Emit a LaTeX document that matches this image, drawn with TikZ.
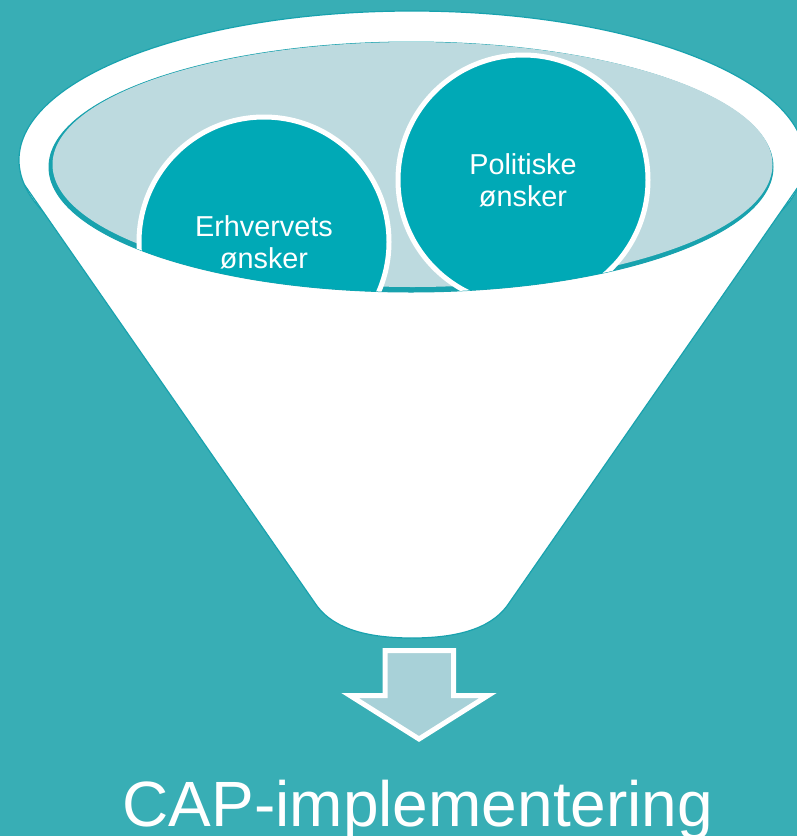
\documentclass[tikz,border=0pt]{standalone}
\usepackage{fontspec}
\setmainfont{Liberation Sans}
\definecolor{bg}{RGB}{56,174,181}
\definecolor{disc}{RGB}{0,169,182}
\definecolor{bowl}{RGB}{189,218,223}
\definecolor{edge}{RGB}{24,162,174}
\definecolor{pil}{RGB}{168,209,216}

\begin{document}
\begin{tikzpicture}[x=1pt,y=-1pt]
  \tikzset{wish/.style = {circle, minimum size=250pt, fill=disc, draw=white, line width=5pt,
                          text=white, align=center, font=\fontsize{28.8}{32}\selectfont},
           funnel line/.style = {draw=edge, line width=1.2pt}}
  \fill[bg] (0,0) rectangle (797,836);
  \useasboundingbox (0,0) rectangle (797,836);
  % tragt
  \draw[funnel line, fill=white] (412,160) ellipse [x radius=393, y radius=149];
  \fill[white] (24.6,185) -- (317,606) .. controls (335,630) and (370,638) .. (412,638)
     .. controls (454,638) and (489,630) .. (507,606) -- (799.4,185) -- cycle;
  \draw[funnel line] (24.6,185) -- (317,606) .. controls (335,630) and (370,638) .. (412,638)
     .. controls (454,638) and (489,630) .. (507,606) -- (799.4,185);
  % skaal
  \draw[edge, fill=edge, line width=1pt] (411,167) ellipse [x radius=362, y radius=125];
  \fill[bowl] (412.5,164.5) ellipse [x radius=360, y radius=122.5];
  \begin{scope}
    \clip (411,167) ellipse [x radius=362, y radius=125];
    \node[wish] (erhverv) at (264,242) {Erhvervets\\ønsker};
    \node[wish] (politik) at (523,180) {Politiske\\ønsker};
  \end{scope}
  % pil
  \draw[draw=white, fill=pil, line width=5pt] (385,650.5) -- (453.5,650.5) -- (453.5,695.5)
     -- (488,695.5) -- (419,739) -- (350,695.5) -- (385,695.5) -- cycle;
  \node[text=white, font=\fontsize{64}{70}\selectfont, anchor=base] (cap) at (418,826) {CAP-implementering};
\end{tikzpicture}
\end{document}
